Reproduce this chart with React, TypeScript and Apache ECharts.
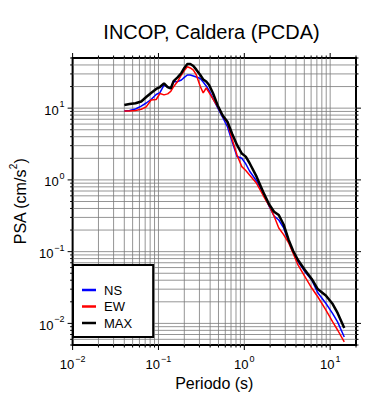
import React, { useEffect, useRef } from 'react';
import * as echarts from 'echarts';

const FONT = '"Liberation Sans", Arial, Helvetica, sans-serif';

const titleText = 'INCOP, Caldera (PCDA)';
const xName = 'Periodo (s)';
const seriesNames = ['NS', 'EW', 'MAX'];

const periods = [
  0.04, 0.046, 0.054, 0.063, 0.072, 0.082, 0.094, 0.104, 0.116, 0.128,
  0.139, 0.15, 0.167, 0.185, 0.2, 0.217, 0.235, 0.255, 0.276, 0.307,
  0.332, 0.36, 0.389, 0.432, 0.49, 0.56, 0.636, 0.723, 0.822, 0.935,
  1.04, 1.15, 1.39, 1.66, 1.95, 2.22, 2.52, 2.87, 3.27, 3.71,
  4.22, 5.08, 6.1, 7.14, 8.9, 10.7, 12.2, 14.6,
];

const nsValues = [
  9.13, 9.28, 9.73, 10.7, 11.8, 13.2, 15.5, 16.5, 21.0, 19.7,
  18.8, 23.4, 23.4, 24.7, 26.8, 29.0, 29.0, 28.1, 27.2, 25.9,
  23.1, 20.4, 17.6, 13.6, 10.05, 7.41, 5.51, 3.41, 2.12, 2.0,
  1.67, 1.33, 0.965, 0.657, 0.426, 0.314, 0.276, 0.214, 0.141, 0.0973,
  0.0729, 0.0526, 0.0403, 0.027, 0.0191, 0.0137, 0.0105, 0.00646,
];

const ewValues = [
  9.13, 9.13, 9.28, 9.64, 10.4, 13.0, 13.2, 16.0, 15.3, 15.8,
  17.1, 19.9, 23.5, 29.0, 33.5, 37.8, 36.3, 34.0, 29.0, 20.0,
  16.3, 19.1, 16.5, 13.4, 10.5, 7.77, 6.31, 3.66, 2.22, 1.53,
  1.35, 1.17, 0.897, 0.606, 0.433, 0.314, 0.214, 0.173, 0.134, 0.0943,
  0.0652, 0.0448, 0.0311, 0.0237, 0.0154, 0.0105, 0.00809, 0.00551,
];

const maxValues = [
  11.1, 11.4, 11.7, 12.4, 14.3, 16.3, 18.5, 19.7, 22.2, 19.7,
  18.8, 23.8, 26.8, 30.9, 36.3, 41.2, 41.2, 38.7, 34.4, 29.0,
  25.1, 23.5, 21.0, 16.1, 10.9, 7.9, 6.47, 4.36, 3.07, 2.33,
  2.11, 1.72, 1.11, 0.678, 0.454, 0.36, 0.324, 0.239, 0.148, 0.102,
  0.0765, 0.0555, 0.0416, 0.0302, 0.0245, 0.0186, 0.014, 0.00863,
];

const xMin = 0.01;
const xMax = 20;
const yMin = 0.005;
const yMax = 50;
const xDecades = [0.01, 0.1, 1, 10];
const yDecades = [0.001, 0.01, 0.1, 1, 10];
const mantissas = [1, 2, 3, 4, 5, 6, 7, 8, 9];

function gridValues(decades: number[], lo: number, hi: number) {
  const out: number[][] = [];
  decades.forEach((d) => {
    mantissas.forEach((m) => {
      const v = parseFloat((d * m).toPrecision(6));
      if (v >= lo - 1e-12 && v <= hi + 1e-9) out.push([v, m === 1 ? 1 : 0]);
    });
  });
  return out;
}

const supLabel = (v: number) => {
  const l = Math.log10(v);
  const r = Math.round(l);
  if (Math.abs(l - r) > 1e-6) return '';
  const e = r < 0 ? '\u2212' + -r : String(r);
  return `{b|10}{s|${e}}`;
};

const labelRich = {
  b: { fontSize: 13, fontFamily: FONT, color: '#000', lineHeight: 17, verticalAlign: 'bottom' },
  s: { fontSize: 9, fontFamily: FONT, color: '#000', lineHeight: 10, verticalAlign: 'top', padding: [0, 0, 0, 1] },
};

export default function App() {
  const ref = useRef<HTMLDivElement>(null);
  useEffect(() => {
    document.body.style.margin = '0';
    if (!ref.current) return;
    const chart = echarts.init(ref.current, undefined, { renderer: 'svg' });

    const gridData: number[][] = [
      ...gridValues(xDecades, xMin, xMax).map(([v, maj]) => [v, yMin, 0, maj]),
      ...gridValues(yDecades, yMin, yMax).map(([v, maj]) => [xMin, v, 1, maj]),
    ];

    const lineSeries = (name: string, vals: number[], color: string, width: number, z: number) => ({
      name,
      type: 'line',
      data: periods.map((p, i) => [p, vals[i]]),
      symbol: 'none',
      showSymbol: false,
      lineStyle: { color, width },
      itemStyle: { color },
      z,
      clip: true,
    });

    chart.setOption({
      animation: false,
      graphic: [
        {
          type: 'text',
          x: 211.5,
          y: 32,
          style: {
            text: titleText,
            textAlign: 'center',
            textVerticalAlign: 'middle',
            verticalAlign: 'middle',
            fontSize: 20,
            fontFamily: FONT,
            fill: '#000',
          },
        },
      ],
      grid: {
        left: 67,
        top: 58,
        width: 289,
        height: 287,
        show: true,
        borderColor: '#000',
        borderWidth: 2,
        backgroundColor: 'transparent',
      },
      legend: {
        data: seriesNames,
        orient: 'vertical',
        left: 73,
        top: 265,
        backgroundColor: '#fff',
        borderColor: '#000',
        borderWidth: 2,
        borderRadius: 0,
        padding: [18, 21, 7, 9],
        icon: 'rect',
        itemWidth: 14,
        itemHeight: 2.5,
        itemGap: 2.5,
        textStyle: { fontSize: 13, lineHeight: 14, color: '#000', fontFamily: FONT, padding: [0, 0, 0, 3] },
      },
      xAxis: {
        type: 'log',
        logBase: 10,
        min: xMin,
        max: xMax,
        name: xName,
        nameLocation: 'middle',
        nameGap: 29,
        nameTextStyle: { fontSize: 16, fontFamily: FONT, color: '#000' },
        axisLine: { show: false },
        axisTick: { show: false },
        splitLine: { show: false },
        minorTick: { show: false },
        axisLabel: { margin: 9, formatter: supLabel, rich: labelRich, color: '#000' },
      },
      yAxis: {
        type: 'log',
        logBase: 10,
        min: yMin,
        max: yMax,
        name: '{a|PSA (cm/s}{s|2}{a|)}',
        nameLocation: 'middle',
        nameGap: 37,
        nameTextStyle: {
          fontSize: 16,
          fontFamily: FONT,
          color: '#000',
          rich: {
            a: { fontSize: 16, fontFamily: FONT, color: '#000', lineHeight: 20, verticalAlign: 'bottom' },
            s: { fontSize: 10, fontFamily: FONT, color: '#000', lineHeight: 12, verticalAlign: 'top' },
          },
        },
        axisLine: { show: false },
        axisTick: { show: false },
        splitLine: { show: false },
        minorTick: { show: false },
        axisLabel: { margin: 8, formatter: supLabel, rich: labelRich, color: '#000' },
      },
      series: [
        {
          name: 'grid',
          type: 'custom',
          coordinateSystem: 'cartesian2d',
          silent: true,
          clip: false,
          z: 1,
          encode: { x: 0, y: 1 },
          data: gridData,
          renderItem: (params: any, api: any) => {
            const cs = params.coordSys;
            const orient = api.value(2);
            const major = api.value(3);
            const p = api.coord([api.value(0), api.value(1)]);
            const len = major ? 5 : 2.5;
            const gs = { stroke: '#7a7a7a', lineWidth: 0.8 };
            const ts = { stroke: '#000', lineWidth: 1 };
            const children: any[] = [];
            if (orient === 0) {
              const x = p[0];
              const edge = Math.abs(x - cs.x) < 1.5 || Math.abs(x - (cs.x + cs.width)) < 1.5;
              if (!edge) {
                children.push({ type: 'line', shape: { x1: x, y1: cs.y, x2: x, y2: cs.y + cs.height }, style: gs });
              }
              children.push({ type: 'line', shape: { x1: x, y1: cs.y + cs.height, x2: x, y2: cs.y + cs.height + len }, style: ts });
              children.push({ type: 'line', shape: { x1: x, y1: cs.y, x2: x, y2: cs.y - len }, style: ts });
            } else {
              const y = p[1];
              const edge = Math.abs(y - cs.y) < 1.5 || Math.abs(y - (cs.y + cs.height)) < 1.5;
              if (!edge) {
                children.push({ type: 'line', shape: { x1: cs.x, y1: y, x2: cs.x + cs.width, y2: y }, style: gs });
              }
              children.push({ type: 'line', shape: { x1: cs.x, y1: y, x2: cs.x - len, y2: y }, style: ts });
              children.push({ type: 'line', shape: { x1: cs.x + cs.width, y1: y, x2: cs.x + cs.width + len, y2: y }, style: ts });
            }
            return { type: 'group', children };
          },
        },
        lineSeries('NS', nsValues, '#0000ff', 1.5, 3),
        lineSeries('EW', ewValues, '#ff0000', 1.5, 3),
        lineSeries('MAX', maxValues, '#000000', 2.5, 4),
      ],
    });
    return () => chart.dispose();
  }, []);
  return <div ref={ref} style={{ width: 390, height: 400 }} />;
}
